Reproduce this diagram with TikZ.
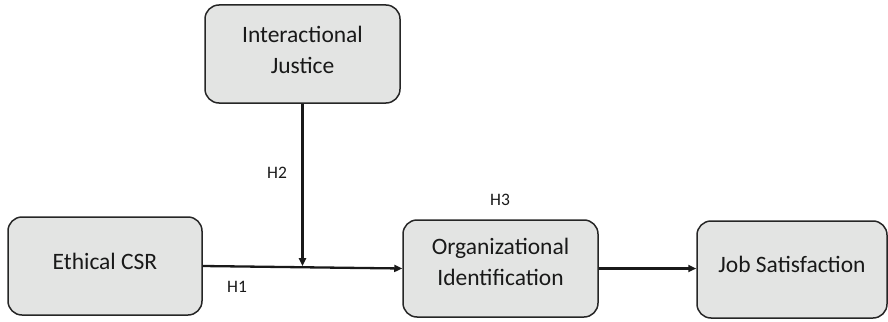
\documentclass[tikz,border=0pt]{standalone}
\usepackage{fontspec}
\setmainfont{Carlito}
\usetikzlibrary{arrows.meta,calc}
\begin{document}
\begin{tikzpicture}[x=1pt,y=-1pt,
  box/.style={draw=black!85, line width=1.5pt, fill=boxgray, rounded corners=14pt, inner sep=0pt},
  boxtext/.style={font=\fontsize{23.5}{31}\selectfont, align=center, inner sep=0pt, text=black!90},
  hlab/.style={font=\fontsize{17.5}{20}\selectfont, inner sep=0pt, text=black!90},
  conn/.style={line width=2.3pt, draw=black!90, -{Triangle[length=8pt,width=7pt]}},
]
\definecolor{boxgray}{HTML}{E3E4E3}
\useasboundingbox (0,0) rectangle (888,321);
\node[box, minimum width=195pt, minimum height=98pt] (ij) at (302.5,54) {};
\node[box, minimum width=194pt, minimum height=98pt] (eth) at (105,266) {};
\node[box, minimum width=195pt, minimum height=97pt] (org) at (500.5,268.5) {};
\node[box, minimum width=190pt, minimum height=97pt] (job) at (792,269.5) {};
\node[boxtext] (ijt) at (302.5,50) {Interactional\\Justice};
\node[boxtext] (etht) at (105,261) {Ethical CSR};
\node[boxtext] (orgt) at (500.5,262) {Organizational\\Identification};
\node[boxtext] (jobt) at (792,264) {Job Satisfaction};
\node[hlab] (h1) at (237,287) {H1};
\node[hlab] (h2) at (277,173) {H2};
\node[hlab] (h3) at (500,200) {H3};
\draw[conn] (eth.east) -- (org.west);
\coordinate (m) at ($(eth.east)!(ij.south)!(org.west)$);
\draw[conn] (ij.south) -- ($(ij.south |- m)+(0,-1)$);
\draw[conn] (org.east) -- (job.west |- org.east);
\end{tikzpicture}
\end{document}
